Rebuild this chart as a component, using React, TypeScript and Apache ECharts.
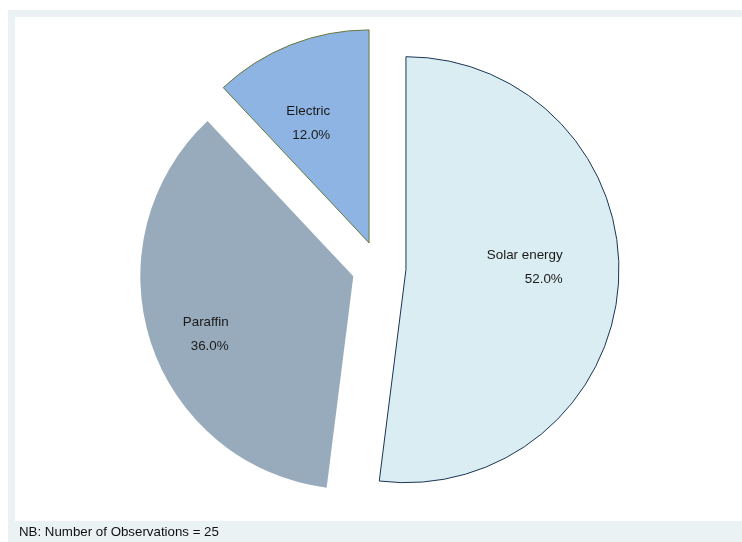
import React, { useEffect, useRef } from "react";
import * as echarts from "echarts";

const categories = ["Solar energy", "Paraffin", "Electric"];
const counts = [13, 9, 3];
const footnote = "NB: Number of Observations = 25";

const fills = ["#daedf3", "#98abbc", "#8db4e2"];
const borders = ["#1c3553", "#98abbc", "#66793a"];
const borderWidths = [1, 0, 1];
const labelShifts: [number, number][] = [
  [2.5, -10],
  [-65.5, 23],
  [-43.5, -18.5],
];

export default function App() {
  const ref = useRef<HTMLDivElement>(null);
  useEffect(() => {
    if (!ref.current) return;
    const chart = echarts.init(ref.current, null, { renderer: "svg" });
    const data = categories.map((name, i) => ({
      name,
      value: counts[i],
      selected: true,
      itemStyle: {
        color: fills[i],
        borderColor: borders[i],
        borderWidth: borderWidths[i],
      },
      select: {
        itemStyle: {
          color: fills[i],
          borderColor: borders[i],
          borderWidth: borderWidths[i],
        },
      },
    }));
    chart.setOption({
      animation: false,
      graphic: [
        {
          type: "rect",
          shape: { x: 8, y: 10, width: 734, height: 532 },
          style: { fill: "#eaf2f3" },
          z: -10,
          silent: true,
        },
        {
          type: "rect",
          shape: { x: 15, y: 17, width: 727, height: 504 },
          style: { fill: "#ffffff" },
          z: -9,
          silent: true,
        },
        {
          type: "text",
          x: 19,
          y: 531,
          style: {
            text: footnote,
            fill: "#111111",
            font: "13.3px 'Liberation Sans', Arial, sans-serif",
            verticalAlign: "middle",
            align: "left",
          },
          silent: true,
        },
      ],
      series: [
        {
          type: "pie",
          center: [379, 268],
          radius: [0, 213],
          startAngle: 90,
          clockwise: true,
          selectedMode: "multiple",
          selectedOffset: 27,
          avoidLabelOverlap: false,
          silent: true,
          emphasis: { disabled: true, scale: false },
          label: {
            show: true,
            position: "inside",
            formatter: (p: any) =>
              `{a|${p.name}}\n{a|${Number(p.percent).toFixed(1)}%}`,
            rich: {
              a: {
                width: 90,
                align: "right",
                fontSize: 13.4,
                lineHeight: 24,
                color: "#1a1a1a",
                fontFamily: "'Liberation Sans', Arial, sans-serif",
              },
            },
          },
          labelLayout: (p: any) => ({
            dx: labelShifts[p.dataIndex][0],
            dy: labelShifts[p.dataIndex][1],
          }),
          labelLine: { show: false },
          data,
        },
      ],
    });
    return () => chart.dispose();
  }, []);
  return (
    <div
      ref={ref}
      style={{ position: "fixed", left: 0, top: 0, width: 742, height: 542 }}
    />
  );
}
